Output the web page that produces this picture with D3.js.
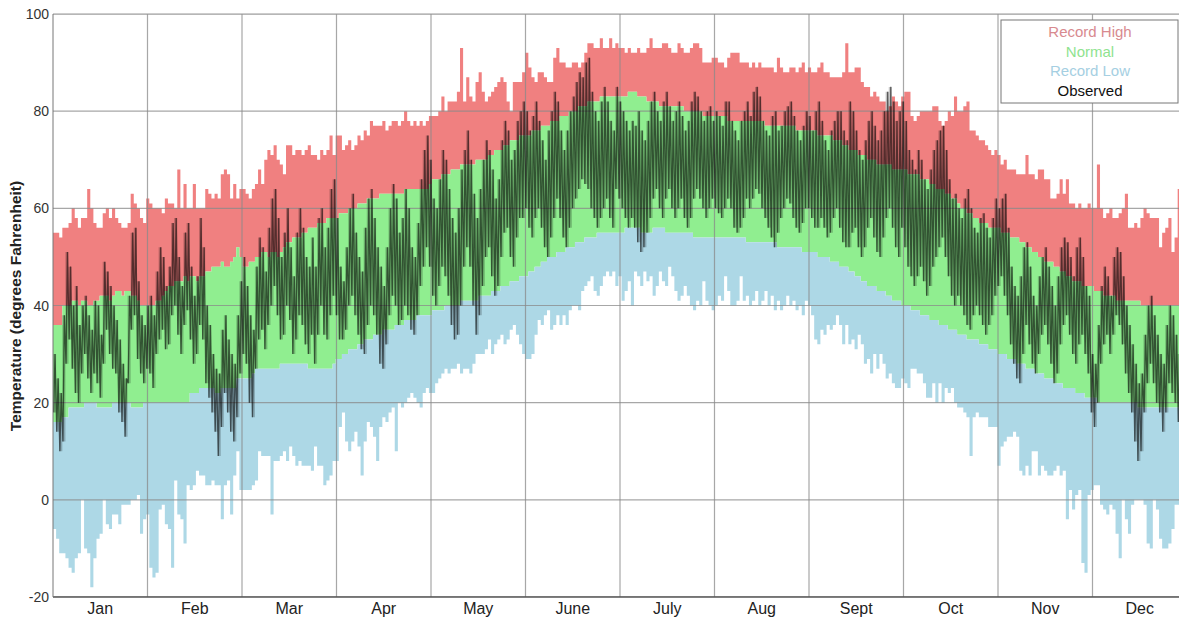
<!DOCTYPE html>
<html>
<head>
<meta charset="utf-8">
<title>Daily Temperature</title>
<script src="https://d3js.org/d3.v7.min.js"></script>
<style>
  body { margin: 0; background: #fff; font-family: "Liberation Sans", Arial, sans-serif; }
  #chart { width: 1179px; height: 622px; }
</style>
</head>
<body>
<div id="chart"></div>
<script>
// month labels
const months = ["Jan", "Feb", "Mar", "Apr", "May", "June", "July", "Aug", "Sept", "Oct", "Nov", "Dec"];
const yTicks = [-20, 0, 20, 40, 60, 80, 100];

// daily values, degrees F, one row per month
const recordHigh = [
  55,55,54,56,56,57,60,58,56,58,58,64,60,57,56,56,59,60,58,60,58,57,56,56,57,63,61,60,58,57,62,
  61,60,60,60,59,62,61,61,60,68,60,65,60,60,65,60,60,60,64,63,62,63,62,67,68,67,62,65,
  62,64,64,63,62,64,65,68,65,70,72,71,73,70,69,67,73,73,71,72,72,71,72,73,71,71,70,72,71,72,75,
  71,75,75,72,73,74,72,73,75,74,76,75,78,77,77,77,78,76,77,78,78,77,78,80,78,77,78,77,78,77,
  78,79,79,79,80,83,80,82,82,82,84,93,82,87,83,82,86,88,84,82,83,84,85,86,87,86,82,80,86,86,86,
  88,92,89,87,86,88,88,87,86,86,91,93,90,90,89,89,90,90,89,90,92,94,94,93,93,95,93,93,95,93,
  94,93,93,92,93,92,92,93,92,92,93,95,93,93,93,94,94,93,92,92,94,93,92,92,93,94,94,93,90,90,90,
  91,91,90,90,89,91,92,92,92,90,90,90,89,90,89,90,89,89,89,89,88,91,89,88,88,89,89,88,89,90,88,
  89,88,88,89,90,88,88,87,87,87,87,88,94,88,88,89,89,86,85,85,83,84,83,82,82,80,81,83,82,81,
  83,84,84,79,78,79,80,80,80,80,81,81,78,77,78,80,79,83,80,80,81,82,76,76,75,74,74,73,72,71,72,
  71,69,70,68,68,68,67,67,67,71,67,67,66,68,68,66,66,62,62,63,66,63,66,61,61,60,61,60,60,61,
  60,60,69,60,58,59,60,58,58,59,60,63,56,56,57,56,58,60,59,58,58,58,52,55,56,58,51,54,64,58,57
];

const normalHigh = [
  36,36,36,40,40,40,41,41,40,41,41,40,40,41,41,42,42,42,41,42,43,43,42,43,43,42,42,41,40,40,40,
  40,40,41,41,42,43,44,44,45,45,45,46,45,46,46,45,46,46,47,47,48,48,48,49,48,48,49,50,
  52,50,48,48,49,49,50,50,51,51,50,51,51,50,51,52,53,53,54,54,54,55,55,56,56,56,57,57,57,58,58,
  58,58,59,59,59,60,60,60,61,61,61,62,62,62,62,63,63,63,63,63,63,63,63,64,64,64,64,64,64,64,
  64,65,66,66,66,67,67,67,68,68,68,69,69,69,69,69,70,70,70,70,71,71,72,72,72,73,73,74,74,74,75,
  75,75,75,76,76,76,77,77,77,78,78,78,79,79,79,80,80,80,81,81,81,82,82,82,82,83,83,83,83,83,
  83,83,83,83,84,84,84,83,83,83,82,82,82,82,81,81,81,81,81,81,81,81,80,80,80,80,80,80,79,79,79,
  79,79,79,79,79,78,78,78,78,78,78,78,78,78,78,78,78,77,77,77,77,77,77,77,77,77,77,76,76,76,76,
  76,76,76,75,75,75,75,75,74,74,74,73,73,72,72,72,71,71,71,70,70,70,69,69,69,69,69,68,68,68,
  68,68,67,67,67,67,66,66,66,65,65,64,64,64,63,63,62,62,61,60,60,59,59,58,58,57,57,57,56,56,56,
  56,55,55,55,54,54,54,53,53,52,52,51,51,50,50,49,49,49,48,48,47,47,46,46,45,45,45,44,44,44,
  44,43,43,43,42,42,42,42,41,41,41,41,41,41,41,41,40,40,40,40,40,40,40,40,40,40,40,40,40,40,40
];

const normalLow = [
  16,16,16,17,17,19,19,19,19,19,20,20,20,20,19,19,19,19,19,20,20,20,20,20,20,19,19,19,19,20,20,
  20,20,20,20,20,20,20,20,20,20,20,20,20,22,22,22,23,23,23,23,23,22,22,23,23,23,23,23,
  25,25,25,25,25,26,27,27,27,27,27,27,27,27,28,28,28,28,28,28,28,28,28,27,27,27,27,27,27,27,27,
  28,29,29,30,30,31,31,31,32,32,33,33,33,34,34,34,35,35,35,35,36,36,36,37,37,37,37,38,38,38,
  38,38,39,39,39,39,40,40,40,40,40,41,41,41,41,41,41,42,42,42,42,43,43,43,44,44,44,45,45,45,46,
  46,46,47,47,48,48,49,49,50,50,50,51,51,51,52,52,52,53,53,53,54,54,54,54,55,55,55,55,55,55,
  55,55,55,56,56,56,56,56,55,55,55,55,56,56,56,56,55,55,55,55,55,55,55,55,55,54,54,54,54,54,54,
  54,54,54,54,54,54,54,54,54,54,54,53,53,53,53,53,53,53,53,53,53,52,52,52,52,52,52,52,52,51,51,
  51,51,51,50,50,50,50,49,49,49,48,48,48,47,47,46,46,45,45,44,44,44,43,43,43,42,42,41,41,41,
  40,40,40,39,39,39,38,38,38,37,37,37,36,36,36,35,35,35,34,34,34,33,33,33,33,32,32,32,31,31,31,
  30,30,30,29,29,29,28,28,28,27,27,27,26,26,26,25,25,25,24,24,24,23,23,23,23,22,22,22,21,21,
  21,21,20,20,20,20,20,20,20,20,20,20,20,20,20,19,19,19,19,19,19,19,19,19,19,19,19,19,19,19,19
];

const recordLow = [
  -6,-8,-11,-11,-12,-14,-15,-12,-11,0,-10,-11,-18,-12,-8,-7,0,-5,-6,-3,-3,-5,-1,-1,-1,0,0,1,-7,-4,-3,
  -14,-16,-15,-2,-1,-5,-6,-14,4,-3,-4,-9,3,2,3,6,5,5,3,3,4,3,3,-4,3,4,-3,5,
  10,2,2,2,2,3,4,10,9,9,9,-3,8,8,9,10,8,11,9,7,8,7,7,7,6,11,7,7,3,4,5,
  8,8,15,18,12,10,12,14,11,5,12,16,15,13,8,15,17,16,18,19,10,20,19,20,21,22,21,20,19,22,
  23,22,22,24,25,26,27,26,27,27,28,26,27,27,26,28,30,30,30,31,33,30,32,33,34,32,33,35,36,34,32,
  30,29,29,30,34,37,36,38,39,35,36,38,36,38,36,39,40,40,39,43,44,45,46,43,42,44,46,47,46,47,
  44,46,41,43,45,40,47,46,44,47,45,46,42,44,47,45,44,48,46,43,41,42,44,42,40,39,41,40,45,41,40,
  39,40,42,41,46,43,40,40,41,46,41,42,40,41,43,40,41,43,40,42,39,41,39,40,42,40,41,39,40,38,41,
  40,38,33,32,35,34,36,35,36,38,36,32,36,32,33,31,34,32,28,29,26,30,27,30,28,25,26,24,23,23,
  25,24,23,27,27,26,26,24,21,21,24,20,24,20,23,22,23,20,19,19,18,17,9,17,18,17,17,17,15,15,15,
  7,11,12,13,13,14,13,6,5,7,5,10,10,5,7,6,5,5,6,7,5,6,-4,2,-2,1,2,-13,-15,1,
  2,3,3,-1,-2,-3,-1,-2,-7,-12,0,-4,-7,-1,0,0,0,-1,-9,-10,0,-2,-8,-10,-10,-9,-6,-1,-1,-9,-8
];

const observedHigh = [
  30,25,22,38,51,48,40,44,36,40,42,38,35,41,40,34,49,47,44,40,37,33,28,25,42,55,56,45,38,36,40,
  42,38,47,52,50,44,48,57,58,50,44,55,57,48,42,46,58,52,40,36,30,27,26,35,38,33,30,28,
  38,45,50,44,38,35,48,54,52,47,56,62,64,58,50,55,60,52,46,55,60,56,50,48,54,48,58,60,52,56,64,
  66,58,48,45,52,60,63,55,50,47,56,62,64,58,52,48,44,52,60,65,62,55,58,64,60,52,50,57,66,72,
  75,70,62,60,66,72,70,64,58,55,60,68,72,76,70,63,58,64,70,74,72,68,62,66,74,78,76,70,72,78,80,
  82,80,76,79,82,78,74,70,76,80,84,82,76,72,76,80,83,86,88,87,90,91,84,80,78,82,85,82,78,76,
  85,82,80,78,76,78,77,80,76,74,78,82,84,80,78,82,84,81,78,80,82,79,76,78,82,84,83,80,78,80,81,
  78,80,79,77,82,82,78,76,74,78,80,82,79,84,85,83,78,76,75,79,80,76,77,80,81,82,79,76,74,77,80,
  79,76,80,82,78,74,72,76,78,80,80,76,74,82,80,76,72,70,74,78,80,77,74,76,80,84,85,82,78,80,
  82,78,72,70,68,72,70,66,64,68,72,74,76,77,72,66,62,63,60,58,62,64,60,56,55,58,59,56,54,58,62,
  60,62,63,56,48,44,42,46,52,53,48,42,40,46,50,52,48,44,40,46,52,54,53,50,46,52,54,50,44,42,
  30,28,36,44,48,46,42,50,52,51,46,40,36,32,28,24,26,34,40,42,38,34,30,28,36,40,38,34,30,32,36
];

const observedLow = [
  18,14,10,12,28,33,27,22,20,26,30,25,22,26,24,21,28,35,30,27,26,18,16,13,24,35,38,29,26,24,27,
  26,23,30,33,35,31,32,38,40,34,30,36,39,33,28,30,36,33,24,21,18,14,9,15,22,18,14,12,
  17,26,30,28,20,17,27,33,35,31,36,40,44,38,33,34,40,37,30,33,38,36,32,30,34,28,34,40,34,33,38,
  42,38,33,33,35,40,42,38,34,31,30,36,40,38,34,28,27,32,38,42,40,36,37,40,38,35,34,38,44,48,
  52,48,42,40,44,48,46,42,36,33,34,40,48,52,48,40,34,38,44,50,52,46,42,44,50,55,56,50,48,54,58,
  58,60,56,54,58,60,56,52,50,54,58,62,58,54,52,56,60,62,64,66,65,64,60,58,56,58,60,62,58,56,
  64,62,60,58,56,58,56,53,51,52,55,58,62,64,60,58,62,64,60,58,60,62,58,56,58,62,64,62,60,58,60,
  62,60,59,58,60,62,60,56,55,56,58,62,60,62,64,63,60,58,56,54,52,55,58,60,62,61,58,56,55,57,60,
  60,58,56,56,58,56,54,55,58,60,56,53,52,52,55,56,52,50,52,56,58,54,51,50,54,58,60,56,52,50,
  56,52,48,46,44,46,48,45,42,44,48,50,52,54,50,46,42,40,42,40,38,36,35,38,40,38,36,34,36,38,42,
  44,46,42,38,32,28,25,24,30,36,32,28,26,30,34,36,32,28,24,26,32,36,38,34,30,28,32,34,30,26,
  18,15,20,28,32,34,30,34,38,36,32,26,22,18,12,8,10,18,24,28,24,20,18,14,18,24,22,20,16,18,22
];

const legendItems = [
  { label: "Record High", color: "#d88a8f" },
  { label: "Normal", color: "#8fe38f" },
  { label: "Record Low", color: "#a5cfe2" },
  { label: "Observed", color: "#111" }
];

const width = 1179, height = 622;
const margin = { left: 53, top: 14, right: -8, bottom: 25 };
const nDays = recordHigh.length;

const x = d3.scaleLinear().domain([0, nDays]).range([margin.left, width - margin.right]);
const y = d3.scaleLinear().domain([-20, 100]).range([height - margin.bottom, margin.top]);

const svg = d3.select("#chart").append("svg")
  .attr("width", width)
  .attr("height", height)
  .style("background", "#fff");

svg.append("clipPath").attr("id", "plot-clip")
  .append("rect")
  .attr("x", x(0)).attr("y", y(100))
  .attr("width", x(nDays) - x(0)).attr("height", y(-20) - y(100));

const plot = svg.append("g").attr("clip-path", "url(#plot-clip)");

// stepped band between two daily series
function band(top, bottom) {
  const pts = d3.range(nDays).map(d => ({ d: d, t: top[d], b: bottom[d] }));
  pts.push({ d: nDays, t: top[nDays - 1], b: bottom[nDays - 1] });
  return d3.area()
    .curve(d3.curveStepAfter)
    .x(p => x(p.d))
    .y0(p => y(p.b))
    .y1(p => y(p.t))(pts);
}

plot.append("path").attr("d", band(recordHigh, normalHigh)).attr("fill", "#f08080");
plot.append("path").attr("d", band(normalHigh, normalLow)).attr("fill", "#90ee90");
plot.append("path").attr("d", band(normalLow, recordLow)).attr("fill", "#add8e6");

// grid
const monthLen = nDays / 12;
plot.append("g").selectAll("line")
  .data(yTicks)
  .join("line")
  .attr("x1", x(0)).attr("x2", x(nDays))
  .attr("y1", d => y(d)).attr("y2", d => y(d))
  .attr("stroke", "#8a8a8a")
  .attr("stroke-opacity", 0.75)
  .attr("stroke-width", 1.2);

plot.append("g").selectAll("line")
  .data(d3.range(1, 12))
  .join("line")
  .attr("x1", k => x(k * monthLen)).attr("x2", k => x(k * monthLen))
  .attr("y1", y(100)).attr("y2", y(-20))
  .attr("stroke", "#8a8a8a")
  .attr("stroke-opacity", 0.75)
  .attr("stroke-width", 1.2);

// observed: shade each day's range, then the low -> high -> low trace
plot.append("path")
  .attr("d", band(observedHigh, observedLow))
  .attr("fill", "#000")
  .attr("fill-opacity", 0.22);

const obsPts = [];
d3.range(nDays).forEach(d => {
  obsPts.push([d + 0.2, observedLow[d]]);
  obsPts.push([d + 0.65, observedHigh[d]]);
});
plot.append("path")
  .datum(obsPts)
  .attr("fill", "none")
  .attr("stroke", "#000")
  .attr("stroke-opacity", 0.55)
  .attr("stroke-width", 1.3)
  .attr("d", d3.line().x(p => x(p[0])).y(p => y(p[1])));

// frame
svg.append("line")
  .attr("x1", x(0)).attr("x2", width).attr("y1", y(100)).attr("y2", y(100))
  .attr("stroke", "#999");
svg.append("line")
  .attr("x1", x(0)).attr("x2", width).attr("y1", y(-20)).attr("y2", y(-20))
  .attr("stroke", "#555").attr("stroke-width", 1.5);
svg.append("line")
  .attr("x1", x(0)).attr("x2", x(0)).attr("y1", y(100)).attr("y2", y(-20))
  .attr("stroke", "#777");

// y tick labels
svg.append("g").selectAll("text")
  .data(yTicks)
  .join("text")
  .attr("x", x(0) - 4)
  .attr("y", d => y(d) + 5)
  .attr("text-anchor", "end")
  .attr("font-size", 14)
  .attr("fill", "#333")
  .text(d => d);

// month labels
svg.append("g").selectAll("text")
  .data(months)
  .join("text")
  .attr("x", (m, i) => x((i + 0.5) * monthLen))
  .attr("y", 614)
  .attr("text-anchor", "middle")
  .attr("font-size", 16)
  .attr("fill", "#222")
  .text(m => m);

svg.append("text")
  .attr("transform", "translate(21,306) rotate(-90)")
  .attr("text-anchor", "middle")
  .attr("font-size", 15.5)
  .attr("font-weight", "bold")
  .attr("fill", "#222")
  .text("Temperature (degrees Fahrenheit)");

// legend
const legend = svg.append("g").attr("transform", "translate(1001,20)");
legend.append("rect")
  .attr("width", 177).attr("height", 83)
  .attr("fill", "#fff")
  .attr("stroke", "#777");
legend.selectAll("text")
  .data(legendItems)
  .join("text")
  .attr("x", 89)
  .attr("y", (d, i) => 17 + i * 19.5)
  .attr("text-anchor", "middle")
  .attr("font-size", 15)
  .attr("fill", d => d.color)
  .text(d => d.label);
</script>
</body>
</html>
